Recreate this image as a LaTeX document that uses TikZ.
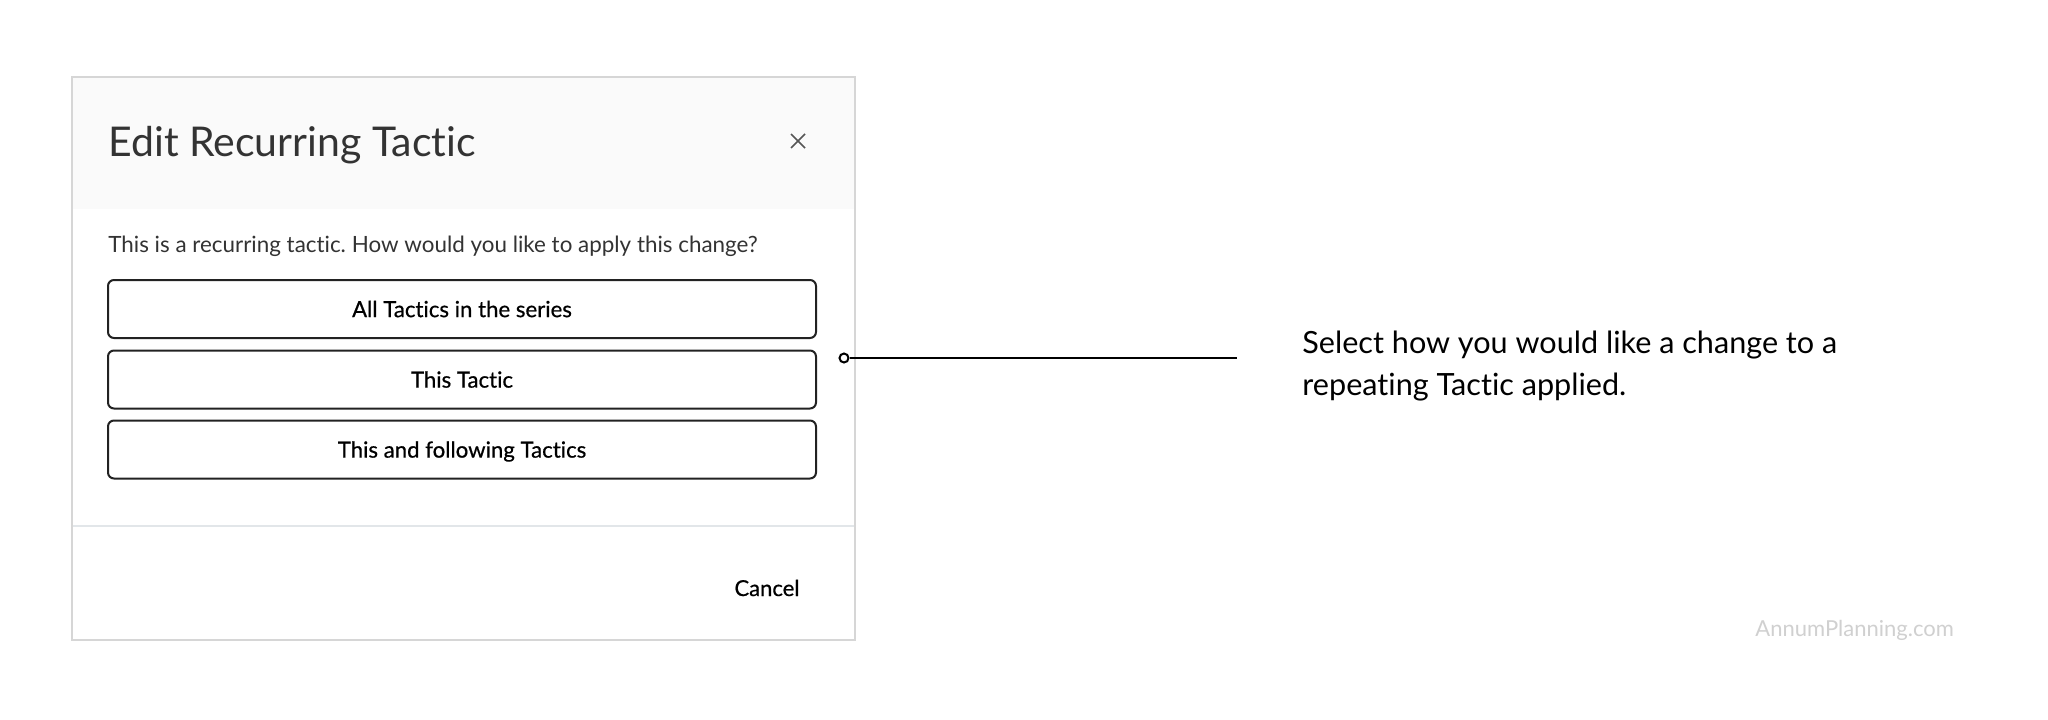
\documentclass[tikz,border=0pt]{standalone}
\usepackage{fontspec}
\setmainfont{Lato}[Ligatures=NoCommon]
\newfontfamily\btnfont{Lato}[Ligatures=NoCommon, FakeBold=0.6]
\frenchspacing
\usetikzlibrary{calc}
\definecolor{dlgborder}{HTML}{D6D6D6}
\definecolor{hdrfill}{HTML}{FAFAFA}
\definecolor{divline}{HTML}{E2E6E9}
\definecolor{txtdark}{HTML}{333333}
\definecolor{btnborder}{HTML}{222222}
\definecolor{wmark}{HTML}{D0D0D0}
\definecolor{closecol}{HTML}{555555}
\tikzset{
  txt/.style={inner sep=0pt, anchor=base west},
  btnbox/.style={draw=btnborder, line width=1pt, rounded corners=3pt, fill=white,
    minimum width=354pt, minimum height=29pt, inner sep=0pt,
    text height=8.1pt, text depth=0pt, font=\btnfont\fontsize{11.1pt}{14pt}\selectfont, text=black},
  dotnode/.style={circle, draw=black, fill=white, line width=1pt, minimum size=4.5pt, inner sep=0pt},
}
\begin{document}
\begin{tikzpicture}[x=0.5pt,y=-0.5pt]
\useasboundingbox (0,0) rectangle (2048,719);
\fill[white] (0,0) rectangle (2048,719);
% dialog
\fill[hdrfill] (72,77) rectangle (855,209);
\draw[divline, line width=1pt] (72,526) -- (855,526);
\draw[dlgborder, line width=1.2pt] (72,77) rectangle (855,640);
% title and close
\node[txt, font=\fontsize{20.5pt}{24pt}\selectfont, text=txtdark] (title) at (108,156) {Edit Recurring Tactic};
\coordinate (closec) at (798,141);
\draw[closecol, line width=0.8pt] ($(closec)+(-7,-7)$) -- ($(closec)+(7,7)$);
\draw[closecol, line width=0.8pt] ($(closec)+(-7,7)$) -- ($(closec)+(7,-7)$);
% prompt
\node[txt, font=\fontsize{11.2pt}{14pt}\selectfont, text=txtdark] (prompt) at (108,252) {This is a recurring tactic. How would you like to apply this change?};
% buttons
\node[btnbox] (b1) at (462,309) {All Tactics in the series};
\node[btnbox] (b2) at (462,379.5) {This Tactic};
\node[btnbox] (b3) at (462,449.5) {This and following Tactics};
% cancel
\node[inner sep=0pt, anchor=base, font=\btnfont\fontsize{11pt}{14pt}\selectfont, text=black] (cancel) at (767,596) {Cancel};
% connector
\node[dotnode] (dot) at (844,358) {};
\coordinate (lineend) at (1237,358);
\draw[black, line width=1.2pt] (dot) -- (lineend);
% annotation
\node[txt, font=\fontsize{15.3pt}{21pt}\selectfont, text=black] (ann1) at (1302,353) {Select how you would like a change to a};
\node[txt, font=\fontsize{15.3pt}{21pt}\selectfont, text=black] (ann2) at (1302,395) {repeating Tactic applied.};
% watermark
\node[txt, font=\fontsize{11pt}{14pt}\selectfont, text=wmark] (wm) at (1755,636) {AnnumPlanning.com};
\end{tikzpicture}
\end{document}
